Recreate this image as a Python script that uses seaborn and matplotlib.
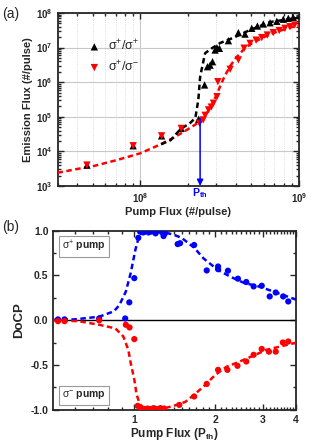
import numpy as np
import pandas as pd
import matplotlib
matplotlib.use("Agg")
import matplotlib.pyplot as plt
import matplotlib.ticker as mt
import seaborn as sns

# ---------------- data: panel (a) ----------------
pp_x = [4.6e7, 9.0e7, 1.36e8, 1.81e8, 2.33e8, 2.54e8, 2.65e8, 2.75e8, 2.85e8, 2.96e8, 3.04e8, 3.15e8,
        3.59e8, 4.15e8, 4.57e8, 5.04e8, 5.47e8, 5.96e8, 6.57e8, 7.25e8, 7.97e8, 8.57e8, 9.2e8]
pp_y = [4.0e3, 1.45e4, 2.8e4, 4.6e4, 8.5e4, 8.3e5, 2.8e6, 3.1e6, 3.9e6, 8.5e6, 9.9e6, 9.5e6,
        1.58e7, 2.7e7, 2.45e7, 3.6e7, 4.2e7, 4.8e7, 5.2e7, 5.75e7, 6.6e7, 7.0e7, 7.5e7]
pm_x = [4.6e7, 9.0e7, 1.36e8, 1.81e8, 2.36e8, 2.49e8, 2.56e8, 2.69e8, 2.8e8, 2.89e8, 3.04e8, 3.08e8,
        3.68e8, 4.15e8, 4.51e8, 4.92e8, 5.37e8, 5.83e8, 6.32e8, 6.89e8, 7.51e8, 8.16e8, 8.78e8, 9.4e8]
pm_y = [4.0e3, 1.45e4, 2.8e4, 4.6e4, 6.5e4, 8.1e4, 1.1e5, 1.58e5, 1.9e5, 2.46e5, 3.8e5, 1.03e6,
        2.35e6, 4.4e6, 9.6e6, 1.32e7, 1.64e7, 1.94e7, 2.3e7, 2.7e7, 3.1e7, 3.6e7, 4.0e7, 4.5e7]
fit_pp_x = [1.35e8, 1.55e8, 1.79e8, 2.06e8, 2.22e8, 2.32e8, 2.38e8, 2.45e8, 2.56e8, 2.84e8, 3.19e8,
            3.84e8, 4.9e8, 6.6e8, 1.0e9]
fit_pp_y = [1.6e4, 2.1e4, 4.4e4, 6.6e4, 9.2e4, 3.1e5, 1.4e6, 2.7e6, 6.9e6, 9.7e6, 1.36e7,
            1.9e7, 3.2e7, 5.5e7, 7.3e7]
fit_pm_x = [3e7, 4e7, 5e7, 7e7, 1e8, 1.3e8, 1.6e8, 1.9e8, 2.2e8, 2.4e8, 2.6e8, 2.8e8, 3.0e8, 3.2e8,
            3.4e8, 3.7e8, 4.0e8, 4.5e8, 5e8, 6e8, 7e8, 8e8, 9e8, 1e9]
fit_pm_y = [2.4e3, 3.1e3, 3.7e3, 5.5e3, 8.8e3, 1.5e4, 2.4e4, 3.8e4, 5.8e4, 7.5e4, 1.2e5, 2.0e5, 4e5, 8e5,
            1.5e6, 3e6, 5e6, 9e6, 1.3e7, 2e7, 2.7e7, 3.3e7, 3.9e7, 4.3e7]
p_th = 2.38e8

# ---------------- data: panel (b) ----------------
bp_x = [0.52, 0.55, 0.74, 0.925, 0.958, 1.0, 1.035, 1.05, 1.08, 1.1, 1.13, 1.16, 1.2, 1.23, 1.27, 1.3,
        1.285, 1.45, 1.48, 1.67, 1.86, 2.05, 2.05, 2.23, 2.43, 2.61, 2.78, 2.98, 3.19, 3.36, 3.58, 3.74]
bp_y = [0.01, 0.01, 0.02, 0.02, 0.20, 0.47, 0.92, 0.99, 0.98, 1.0, 0.98, 0.99, 0.97, 1.0, 0.98, 0.97,
        0.94, 0.85, 0.86, 0.84, 0.556, 0.60, 0.57, 0.553, 0.464, 0.427, 0.378, 0.385, 0.266, 0.31, 0.266, 0.21]
bm_x = [0.52, 0.55, 0.74, 0.93, 0.96, 1.0, 1.03, 1.06, 1.09, 1.12, 1.15, 1.18, 1.21, 1.25, 1.29,
        1.47, 1.67, 1.86, 2.05, 2.22, 2.42, 2.61, 2.78, 2.98, 3.17, 3.36, 3.57, 3.74]
bm_y = [-0.01, -0.01, -0.0, -0.05, -0.08, -0.21, -0.955, -0.99, -0.99, -0.985, -0.99, -0.98, -0.99, -0.98, -0.985,
        -0.944, -0.85, -0.71, -0.553, -0.553, -0.508, -0.46, -0.385, -0.32, -0.35, -0.35, -0.248, -0.237]
fbp_x = [0.5, 0.6, 0.74, 0.84, 0.88, 0.93, 0.97, 1.01, 1.045, 1.09, 1.15, 1.3, 1.4, 1.5, 1.67, 1.81,
         2.05, 2.3, 2.57, 2.9, 3.3, 4.0]
fbp_y = [0.005, 0.01, 0.04, 0.1, 0.17, 0.32, 0.53, 0.79, 0.955, 0.99, 1.0, 0.98, 0.955, 0.92, 0.81, 0.69,
         0.56, 0.48, 0.415, 0.378, 0.32, 0.23]
fbm_x = [0.5, 0.62, 0.74, 0.85, 0.91, 0.95, 0.97, 1.0, 1.02, 1.05, 1.09, 1.2, 1.3, 1.4, 1.55, 1.67, 1.81,
         2.0, 2.2, 2.47, 2.75, 3.1, 4.0]
fbm_y = [0.0, -0.01, -0.05, -0.09, -0.18, -0.33, -0.48, -0.66, -0.83, -0.94, -0.98, -0.99, -0.98, -0.955,
         -0.91, -0.83, -0.74, -0.61, -0.52, -0.46, -0.40, -0.33, -0.25]

sns.set_theme(style="ticks")
plt.rcParams["font.family"] = ["Liberation Sans", "DejaVu Sans"]
plt.rcParams["mathtext.fontset"] = "custom"
plt.rcParams["mathtext.rm"] = "Liberation Sans"
plt.rcParams["mathtext.it"] = "Liberation Sans:italic"
plt.rcParams["mathtext.bf"] = "Liberation Sans:bold"
plt.rcParams["axes.linewidth"] = 1.3

fig = plt.figure(figsize=(3.16, 4.47), dpi=100)
ax1 = fig.add_axes([0.182, 0.584, 0.764, 0.387])
ax2 = fig.add_axes([0.169, 0.083, 0.768, 0.401])

# ---------- panel (a) ----------
ax1.set_xscale("log")
ax1.set_yscale("log")
ax1.set_xlim(3e7, 1e9)
ax1.set_ylim(1e3, 1e8)
ax1.grid(True, which="major", axis="both", color="#c8c8c8", lw=0.8, ls="-")
ax1.grid(True, which="minor", axis="x", color="#d0d0d0", lw=0.6, ls=":")
ax1.set_axisbelow(True)

sns.lineplot(x=fit_pm_x, y=fit_pm_y, ax=ax1, color="red", lw=1.8, ls=(0, (2.2, 1.4)), zorder=3)
sns.lineplot(x=fit_pp_x, y=fit_pp_y, ax=ax1, color="black", lw=1.8, ls=(0, (2.2, 1.4)), zorder=3)
sns.scatterplot(x=pp_x, y=pp_y, ax=ax1, marker="^", color="black", s=28, edgecolor="none",
                label="σ$^{+}$/σ$^{+}$", zorder=4)
sns.scatterplot(x=pm_x, y=pm_y, ax=ax1, marker="v", color="red", s=28, edgecolor="none",
                label="σ$^{+}$/σ$^{-}$", zorder=5)
ax1.annotate("", xy=(p_th, 1e3), xytext=(p_th, 9e4),
             arrowprops=dict(arrowstyle="-|>", color="blue", lw=1.1, mutation_scale=9,
                             shrinkA=0, shrinkB=0), zorder=6)
ax1.text(p_th, 10 ** 2.78, "P$_{\\mathbf{th}}$", color="blue", ha="center", va="center",
         fontsize=7.5, fontweight="bold")
leg = ax1.legend(loc="upper left", bbox_to_anchor=(0.08, 0.92), frameon=False, fontsize=9,
                 handletextpad=0.6, labelspacing=0.45, handlelength=1.0)
ax1.set_xlabel("Pump Flux (#/pulse)", fontsize=8, fontweight="bold", labelpad=2)
ax1.set_ylabel("Emission Flux (#/pulse)", fontsize=8, fontweight="bold", labelpad=2)
ax1.xaxis.set_major_locator(mt.LogLocator(base=10, numticks=10))
ax1.yaxis.set_major_locator(mt.LogLocator(base=10, numticks=10))
ax1.tick_params(which="both", direction="in", top=True, right=True, labelsize=7, width=1.0)
ax1.tick_params(which="major", length=4)
ax1.tick_params(which="minor", length=2.2)
for t in ax1.get_xticklabels() + ax1.get_yticklabels():
    t.set_fontweight("bold")
fig.text(0.008, 0.968, "(a)", fontsize=10, va="center")

# ---------- panel (b) ----------
ax2.set_xscale("log")
ax2.set_xlim(0.5, 4.0)
ax2.set_ylim(-1.0, 1.0)
ax2.axhline(0, color="black", lw=1.0, zorder=1)
sns.lineplot(x=fbp_x, y=fbp_y, ax=ax2, color="blue", lw=1.8, ls=(0, (2.2, 1.4)), zorder=3)
sns.lineplot(x=fbm_x, y=fbm_y, ax=ax2, color="red", lw=1.8, ls=(0, (2.2, 1.4)), zorder=3)
sns.scatterplot(x=bp_x, y=bp_y, ax=ax2, color="blue", s=20, edgecolor="none", zorder=4)
sns.scatterplot(x=bm_x, y=bm_y, ax=ax2, color="red", s=20, edgecolor="none", zorder=4)
ax2.xaxis.set_major_locator(mt.FixedLocator([1, 2, 3, 4]))
ax2.xaxis.set_major_formatter(mt.FixedFormatter(["1", "2", "3", "4"]))
minor_b = [0.6, 0.7, 0.8, 0.9] + [round(1 + 0.1 * i, 1) for i in range(1, 30) if (i % 10) != 0]
ax2.xaxis.set_minor_locator(mt.FixedLocator(minor_b))
ax2.xaxis.set_minor_formatter(mt.NullFormatter())
ax2.yaxis.set_major_locator(mt.MultipleLocator(0.5))
ax2.yaxis.set_minor_locator(mt.MultipleLocator(0.25))
ax2.yaxis.set_major_formatter(mt.FormatStrFormatter("%.1f"))
ax2.tick_params(which="both", direction="in", top=True, right=True, labelsize=7.5, width=1.0)
ax2.tick_params(which="major", length=4)
ax2.tick_params(which="minor", length=2.2)
for t in ax2.get_xticklabels() + ax2.get_yticklabels():
    t.set_fontweight("bold")
ax2.set_xlabel("Pump Flux (P$_{\\mathbf{th}}$)", fontsize=8.5, fontweight="bold", labelpad=1)
ax2.set_ylabel("DoCP", fontsize=9.5, fontweight="bold", labelpad=4)
box = dict(boxstyle="square,pad=0.3", fc="white", ec="#999999", lw=0.8)
ax2.text(0.035, 0.955, "σ$^{+}$ $\\mathbf{pump}$", transform=ax2.transAxes, fontsize=7.5,
         va="top", ha="left", bbox=box)
ax2.text(0.035, 0.045, "σ$^{-}$ $\\mathbf{pump}$", transform=ax2.transAxes, fontsize=7.5,
         va="bottom", ha="left", bbox=box)
fig.text(0.008, 0.492, "(b)", fontsize=10, va="center")

fig.savefig("out.png", dpi=100)
